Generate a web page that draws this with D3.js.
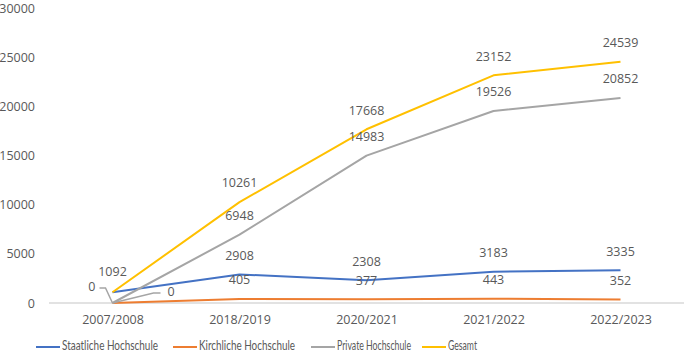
<!DOCTYPE html>
<html><head><meta charset="utf-8">
<script src="https://cdn.jsdelivr.net/npm/d3@7"></script>
<style>body{margin:0;background:#fff}svg{display:block}text{font-family:"Open Sans",sans-serif;fill:#595959}</style>
</head><body>
<svg id="c" width="685" height="361"></svg>
<script>
const categories = ["2007/2008","2018/2019","2020/2021","2021/2022","2022/2023"];
const staatliche = [1092, 2908, 2308, 3183, 3335];
const kirchliche = [0, 405, 377, 443, 352];
const privat = [0, 6948, 14983, 19526, 20852];
const gesamt = [1092, 10261, 17668, 23152, 24539];
const yTicks = [0, 5000, 10000, 15000, 20000, 25000, 30000];
const seriesNames = ["Staatliche Hochschule","Kirchliche Hochschule","Private Hochschule","Gesamt"];

const colors = ["#4472C4","#ED7D31","#A5A5A5","#FFC000"];
const seriesVals = [staatliche, kirchliche, privat, gesamt];

const svg = d3.select("#c");
const x = d3.scalePoint().domain(categories).range([49, 684]).padding(0.5);
const y = d3.scaleLinear().domain([0, 30000]).range([303, 8]);

// y axis labels
const yAxis = d3.axisLeft(y).tickValues(yTicks).tickSize(0).tickPadding(0).tickFormat(d3.format("d"));
const ya = svg.append("g").attr("transform","translate(35,0)").call(yAxis);
ya.select(".domain").remove();
ya.selectAll("text").style("font-size","12.5px").style("fill","#595959");

// x axis
const xAxis = d3.axisBottom(x).tickSize(0).tickPadding(12);
const xa = svg.append("g").attr("transform","translate(0,303)").call(xAxis);
xa.select(".domain").remove();
xa.append("line").attr("x1",49).attr("x2",684).attr("y1",0).attr("y2",0).attr("stroke","#d9d9d9").attr("stroke-width",1.5);
xa.selectAll("text").style("font-size","12.5px").style("fill","#595959");

// lines
const line = d3.line().x((d,i)=>x(categories[i])).y(d=>y(d));
seriesVals.forEach((vals, s) => {
  svg.append("path").datum(vals).attr("d", line).attr("fill","none")
    .attr("stroke", colors[s]).attr("stroke-width", 2).attr("stroke-linejoin","round");
});

// labels
const lab = svg.append("g").style("font-size","12.5px");
seriesVals.forEach((vals, s) => {
  vals.forEach((v, i) => {
    if (i === 0) return;
    lab.append("text").attr("x", x(categories[i])).attr("y", y(v) - 18)
      .attr("text-anchor","middle").attr("dominant-baseline","middle").text(v);
  });
});
// first-category labels
const x0 = x(categories[0]);
lab.append("text").attr("x", x0).attr("y", y(gesamt[0]) - 20)
  .attr("text-anchor","middle").attr("dominant-baseline","middle").text(gesamt[0]);
// leader lines for zeros
svg.append("path").attr("d", `M${x0-13},${y(privat[0])-15} H${x0-7} L${x0},${y(privat[0])}`)
  .attr("fill","none").attr("stroke","#A5A5A5").attr("stroke-width",1.5);
lab.append("text").attr("x", x0-17).attr("y", y(privat[0])-15)
  .attr("text-anchor","end").attr("dominant-baseline","middle").text(privat[0]);
svg.append("path").attr("d", `M${x0},${y(kirchliche[0])} L${x0+41},${y(kirchliche[0])-10} H${x0+48}`)
  .attr("fill","none").attr("stroke","#A5A5A5").attr("stroke-width",1.5);
lab.append("text").attr("x", x0+55).attr("y", y(kirchliche[0])-10)
  .attr("text-anchor","start").attr("dominant-baseline","middle").text(kirchliche[0]);

// legend
const legX = [36, 173, 311, 422];
const legW = [96, 96, 74, 29];
const lg = svg.append("g").attr("transform","translate(0,347)");
seriesNames.forEach((n, s) => {
  lg.append("line").attr("x1", legX[s]).attr("x2", legX[s]+24).attr("y1",0).attr("y2",0)
    .attr("stroke", colors[s]).attr("stroke-width",2);
  lg.append("text").attr("x", legX[s]+26).attr("y",0).attr("dominant-baseline","middle")
    .style("font-family","Lato, 'Open Sans', sans-serif")
    .style("font-size","13.5px").attr("textLength", legW[s]).attr("lengthAdjust","spacingAndGlyphs").text(n);
});
</script>
</body></html>
